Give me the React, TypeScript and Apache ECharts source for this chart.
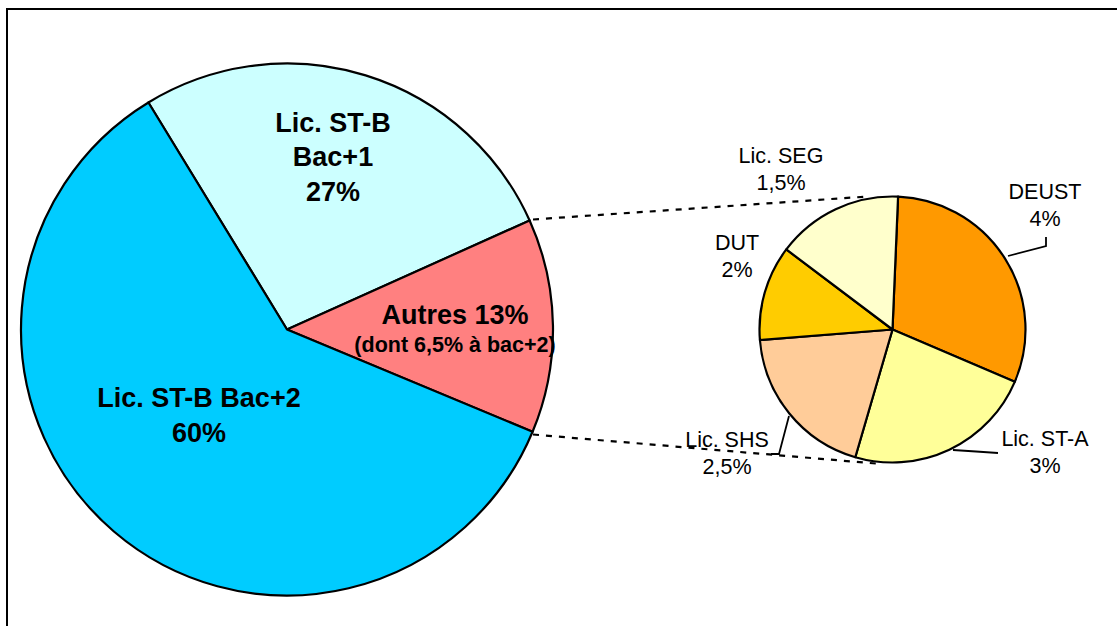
import React, { useEffect, useRef } from 'react';
import * as echarts from 'echarts';

// ---- Data ----
const mainCategories = ['Lic. ST-B Bac+1', 'Autres', 'Lic. ST-B Bac+2'];
const mainValues = [27, 13, 60];
const mainLabelTexts = [
  'Lic. ST-B\nBac+1\n27%',
  '{a|Autres 13%}\n{b|(dont 6,5% à bac+2)}',
  'Lic. ST-B Bac+2\n60%',
];

const detailCategories = ['DEUST', 'Lic. ST-A', 'Lic. SHS', 'DUT', 'Lic. SEG'];
const detailValues = [4, 3, 2.5, 1.5, 2];
const detailPercentLabels = ['4%', '3%', '2,5%', '2%', '1,5%'];

// ---- Styles / layout ----
const mainColors = ['#CCFFFF', '#FF8080', '#00CCFF'];
const detailColors = ['#FF9900', '#FFFF99', '#FFCC99', '#FFCC00', '#FFFFCC'];
const mainLabelPos: [number, number][] = [
  [333, 157],
  [455, 330],
  [199, 415.5],
];
const detailLabelPos: [number, number][] = [
  [1045, 205],
  [1045, 452],
  [727, 453.5],
  [737, 256.5],
  [781, 169.5],
];
const detailLeaderLines: ([number, number][] | null)[] = [
  [[1008, 256], [1046, 246], [1046, 237]],
  [[953, 450], [976, 451.5], [998, 453]],
  [[789, 416], [779, 454], [771, 454]],
  null,
  null,
];
const FONT = '"Liberation Sans", Arial, Helvetica, sans-serif';

export default function App() {
  const ref = useRef<HTMLDivElement>(null);
  useEffect(() => {
    if (!ref.current) return;
    const chart = echarts.init(ref.current, undefined, { renderer: 'svg' });
    const option: any = {
      animation: false,
      backgroundColor: '#ffffff',
      graphic: [
        {
          type: 'rect',
          z: 100,
          shape: { x: 7, y: 9, width: 1300, height: 800 },
          style: { fill: 'none', stroke: '#000', lineWidth: 2 },
        },
        {
          type: 'line',
          z: 100,
          shape: { x1: 533, y1: 219.5, x2: 868, y2: 196.5 },
          style: { stroke: '#000', lineWidth: 2.2, lineDash: [6, 7] },
        },
        {
          type: 'line',
          z: 100,
          shape: { x1: 533, y1: 434.5, x2: 876, y2: 463.5 },
          style: { stroke: '#000', lineWidth: 2.2, lineDash: [6, 7] },
        },
      ],
      series: [
        {
          type: 'pie',
          center: [287, 329.5],
          radius: 266,
          startAngle: 121.4,
          clockwise: true,
          avoidLabelOverlap: false,
          silent: true,
          itemStyle: { borderColor: '#000', borderWidth: 2.2 },
          label: {
            show: true,
            position: 'inside',
            color: '#000',
            fontFamily: FONT,
            fontWeight: 'bold',
            fontSize: 27,
            lineHeight: 34.5,
            align: 'center',
            formatter: (p: any) => mainLabelTexts[p.dataIndex],
            rich: {
              a: { fontFamily: FONT, fontWeight: 'bold', fontSize: 27, lineHeight: 30, color: '#000' },
              b: { fontFamily: FONT, fontWeight: 'bold', fontSize: 21.5, lineHeight: 30, color: '#000' },
            },
          },
          labelLine: { show: false },
          labelLayout: (p: any) => {
            const pos = mainLabelPos[p.dataIndex];
            return { x: pos[0], y: pos[1], align: 'center', verticalAlign: 'middle' };
          },
          data: mainCategories.map((name, i) => ({
            name,
            value: mainValues[i],
            itemStyle: { color: mainColors[i] },
          })),
        },
        {
          type: 'pie',
          center: [892.5, 329.5],
          radius: 133,
          startAngle: 87.6,
          clockwise: true,
          avoidLabelOverlap: false,
          minShowLabelAngle: 0,
          silent: true,
          itemStyle: { borderColor: '#000', borderWidth: 2.2 },
          label: {
            show: true,
            position: 'outside',
            color: '#000',
            fontFamily: FONT,
            fontSize: 21.5,
            lineHeight: 27,
            align: 'center',
            formatter: (p: any) => `${detailCategories[p.dataIndex]}\n${detailPercentLabels[p.dataIndex]}`,
          },
          labelLine: {
            show: true,
            length: 10,
            length2: 10,
            lineStyle: { color: '#000', width: 1.8 },
          },
          labelLayout: (p: any) => {
            const pos = detailLabelPos[p.dataIndex];
            const pts = detailLeaderLines[p.dataIndex];
            const res: any = { x: pos[0], y: pos[1], align: 'center', verticalAlign: 'middle' };
            if (pts) res.labelLinePoints = pts;
            return res;
          },
          data: detailCategories.map((name, i) => ({
            name,
            value: detailValues[i],
            itemStyle: { color: detailColors[i] },
            labelLine: { show: detailLeaderLines[i] !== null },
          })),
        },
      ],
    };
    chart.setOption(option);
    return () => chart.dispose();
  }, []);
  return (
    <div
      ref={ref}
      style={{ position: 'fixed', left: 0, top: 0, width: 1117, height: 626, background: '#fff' }}
    />
  );
}
